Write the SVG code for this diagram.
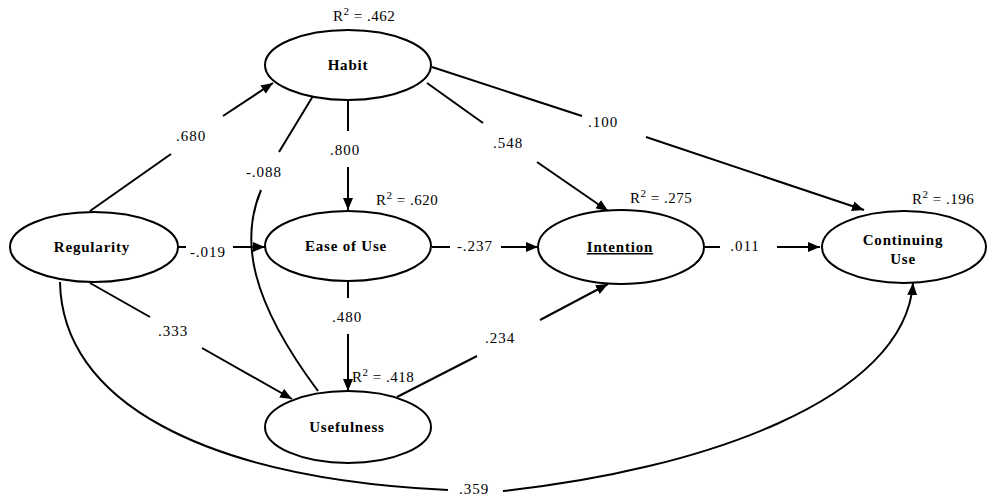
<svg xmlns="http://www.w3.org/2000/svg" width="987" height="500" viewBox="0 0 987 500">
<defs>
<marker id="ah" markerUnits="userSpaceOnUse" markerWidth="13" markerHeight="10" refX="12" refY="5" orient="auto">
<path d="M0,0 L12,5 L0,10 z" fill="#000"/>
</marker>
<style>
.node{fill:#fff;stroke:#000;stroke-width:2}
.nl{font-family:"Liberation Serif","Times New Roman",serif;font-weight:bold;font-size:15px;letter-spacing:0.8px;text-anchor:middle}
.c{fill:none;stroke:#000;stroke-width:2}
.a{marker-end:url(#ah)}
.cl{font-family:"Liberation Serif","Times New Roman",serif;font-size:15px;letter-spacing:1px;text-anchor:middle}
.r2{font-family:"Liberation Serif","Times New Roman",serif;font-size:15px;letter-spacing:0.5px}
</style>
</defs>
<rect width="987" height="500" fill="#fff"/>
<g id="connectors">
<line class="c" x1="90" y1="211" x2="171" y2="154"/>
<line class="c a" x1="223" y1="116" x2="273" y2="83"/>
<line class="c" x1="348" y1="101" x2="348" y2="131"/>
<line class="c a" x1="348" y1="167" x2="348" y2="210"/>
<line class="c" x1="313" y1="96" x2="279" y2="152"/>
<path class="c" d="M261,190 C240,240 250,300 318,391"/>
<line class="c" x1="427" y1="83" x2="483" y2="123"/>
<line class="c a" x1="537" y1="162" x2="608" y2="211"/>
<line class="c" x1="432" y1="67" x2="582" y2="116"/>
<line class="c a" x1="646" y1="137" x2="864" y2="210"/>
<line class="c" x1="178" y1="247" x2="186" y2="247"/>
<line class="c a" x1="233" y1="247" x2="265" y2="247"/>
<line class="c" x1="432" y1="247" x2="450" y2="247"/>
<line class="c a" x1="501" y1="247" x2="538" y2="247"/>
<line class="c" x1="703" y1="247" x2="720" y2="247"/>
<line class="c a" x1="777" y1="247" x2="820" y2="247"/>
<line class="c" x1="348" y1="281" x2="348" y2="298"/>
<line class="c a" x1="348" y1="334" x2="348" y2="391"/>
<line class="c" x1="90" y1="283" x2="150" y2="317"/>
<line class="c a" x1="202" y1="348" x2="292" y2="399"/>
<line class="c" x1="397" y1="397" x2="477" y2="356"/>
<line class="c a" x1="540" y1="320" x2="608" y2="284"/>
<path class="c" d="M60,282 C62,400 200,478 448,490"/>
<path class="c a" d="M503,491 C700,470 905,400 913,283"/>
<text class="cl" x="191" y="141">.680</text>
<text class="cl" x="345" y="155">.800</text>
<text class="cl" x="264" y="177">-.088</text>
<text class="cl" x="508" y="148">.548</text>
<text class="cl" x="603" y="127">.100</text>
<text class="cl" x="208" y="257">-.019</text>
<text class="cl" x="475" y="251">-.237</text>
<text class="cl" x="745" y="251">.011</text>
<text class="cl" x="347" y="322">.480</text>
<text class="cl" x="173" y="336">.333</text>
<text class="cl" x="500" y="343">.234</text>
<text class="cl" x="474" y="494">.359</text>
</g>
<g id="habit">
<ellipse class="node" cx="348" cy="65" rx="83" ry="35"/>
<text class="nl" x="348" y="70">Habit</text>
<text class="r2" x="333" y="21">R<tspan dy="-6" font-size="11">2</tspan><tspan dy="6"> = .462</tspan></text>
</g>
<g id="regularity">
<ellipse class="node" cx="94" cy="247" rx="84" ry="35"/>
<text class="nl" x="92" y="252">Regularity</text>
</g>
<g id="ease">
<ellipse class="node" cx="348" cy="246" rx="83" ry="35"/>
<text class="nl" x="346" y="251">Ease of Use</text>
<text class="r2" x="376" y="205">R<tspan dy="-6" font-size="11">2</tspan><tspan dy="6"> = .620</tspan></text>
</g>
<g id="intention">
<ellipse class="node" cx="621" cy="247" rx="83" ry="37"/>
<text class="nl" x="620" y="252" text-decoration="underline">Intention</text>
<text class="r2" x="630" y="203">R<tspan dy="-6" font-size="11">2</tspan><tspan dy="6"> = .275</tspan></text>
</g>
<g id="continuing">
<ellipse class="node" cx="904" cy="247" rx="82" ry="36"/>
<text class="nl" x="903" y="245">Continuing</text>
<text class="nl" x="903" y="264">Use</text>
<text class="r2" x="912" y="204">R<tspan dy="-6" font-size="11">2</tspan><tspan dy="6"> = .196</tspan></text>
</g>
<g id="usefulness">
<ellipse class="node" cx="348" cy="427" rx="83" ry="36"/>
<text class="nl" x="347" y="432">Usefulness</text>
<text class="r2" x="352" y="382">R<tspan dy="-6" font-size="11">2</tspan><tspan dy="6"> = .418</tspan></text>
</g>
</svg>
